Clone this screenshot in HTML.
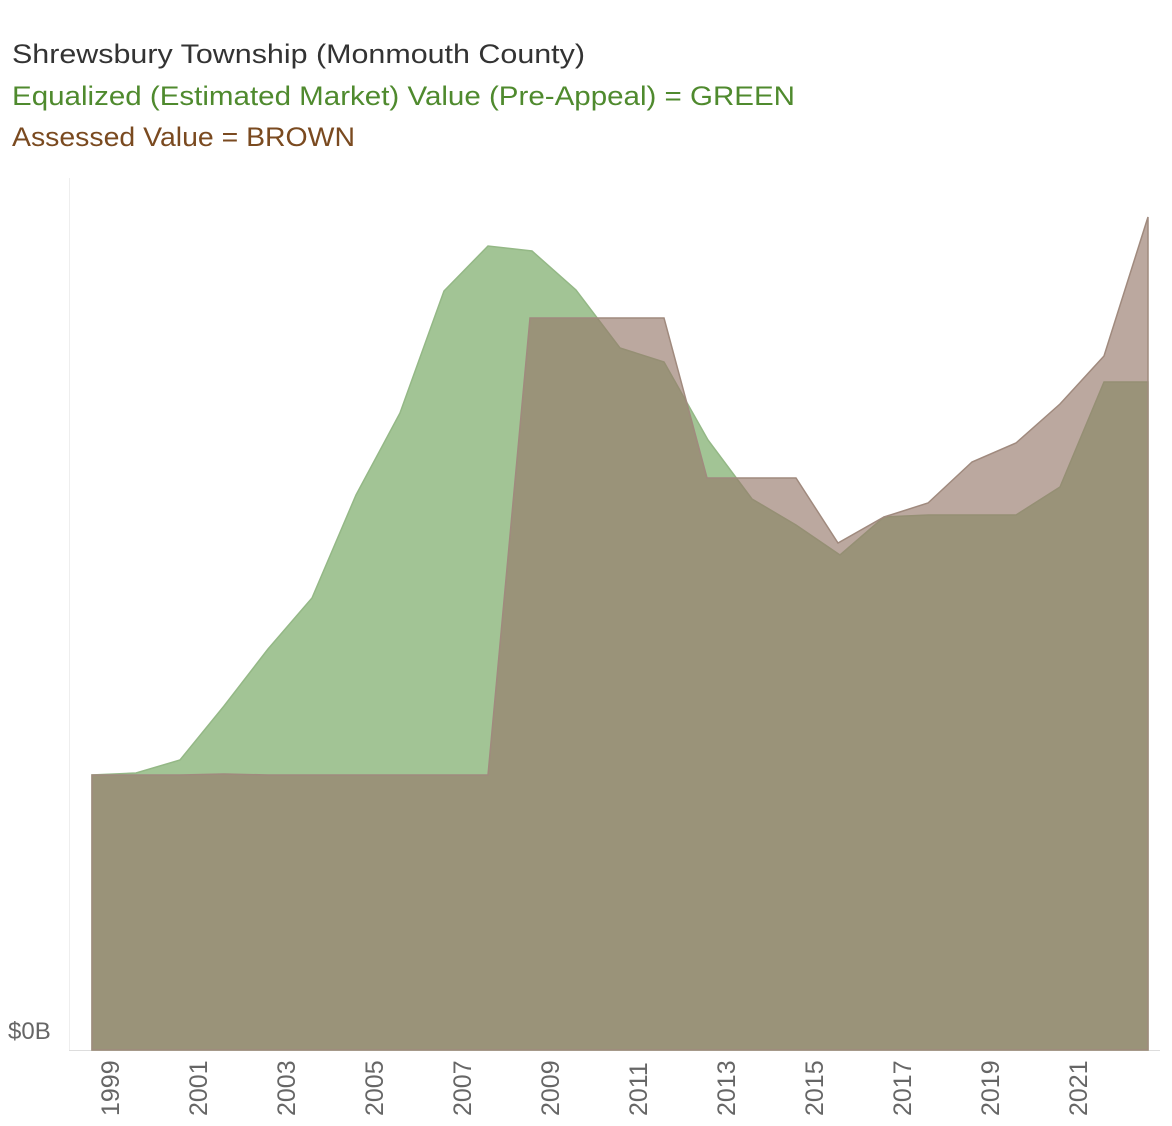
<!DOCTYPE html>
<html><head><style>
body{margin:0;background:#fff;width:1172px;height:1126px;overflow:hidden;font-family:"Liberation Sans",sans-serif}
</style></head><body>
<svg width="1172" height="1126" style="position:absolute;left:0;top:0" font-family="Liberation Sans, sans-serif">
<text x="12" y="63" font-size="27" fill="#333" textLength="573" lengthAdjust="spacingAndGlyphs">Shrewsbury Township (Monmouth County)</text>
<text x="12" y="105" font-size="27" fill="#4f8a2e" textLength="783" lengthAdjust="spacingAndGlyphs">Equalized (Estimated Market) Value (Pre-Appeal) = GREEN</text>
<text x="12" y="146" font-size="27" fill="#7a4a20" textLength="343" lengthAdjust="spacingAndGlyphs">Assessed Value = BROWN</text>
<line x1="69.5" y1="178" x2="69.5" y2="1050" stroke="#eee"/>
<line x1="69" y1="1050.5" x2="1160" y2="1050.5" stroke="#ddd"/>
<polygon fill="#a2c495" stroke="#94b886" stroke-width="1.5" points="92,1050 92,775 136,773 180,760 224,706 268,649 312,598 356,495 400,413 444,291 488,246 532,251 576,290 620,348 664,362 708,440 752,499 796,525 840,555 884,517 928,515 972,515 1016,515 1060,487 1104,382 1148,382 1148,1050"/>
<polygon fill="#96786a" fill-opacity="0.645" stroke="#a08a7e" stroke-width="1.5" points="92,1050 92,775 136,775 180,775 224,774 268,775 312,775 356,775 400,775 444,775 488,775 530,318 576,318 620,318 664,318 707,478 752,478 796,478 838,543 884,517 928,503 972,462 1016,443 1060,404 1104,356 1148,217 1148,1050"/>
<text x="8" y="1039" font-size="24" fill="#666">$0B</text>
<g font-size="25" fill="#666">
<text transform="translate(119,1116) rotate(-90)">1999</text>
<text transform="translate(207,1116) rotate(-90)">2001</text>
<text transform="translate(295,1116) rotate(-90)">2003</text>
<text transform="translate(383,1116) rotate(-90)">2005</text>
<text transform="translate(471,1116) rotate(-90)">2007</text>
<text transform="translate(559,1116) rotate(-90)">2009</text>
<text transform="translate(647,1116) rotate(-90)">2011</text>
<text transform="translate(735,1116) rotate(-90)">2013</text>
<text transform="translate(823,1116) rotate(-90)">2015</text>
<text transform="translate(911,1116) rotate(-90)">2017</text>
<text transform="translate(999,1116) rotate(-90)">2019</text>
<text transform="translate(1087,1116) rotate(-90)">2021</text>
</g>
</svg>
</body></html>
